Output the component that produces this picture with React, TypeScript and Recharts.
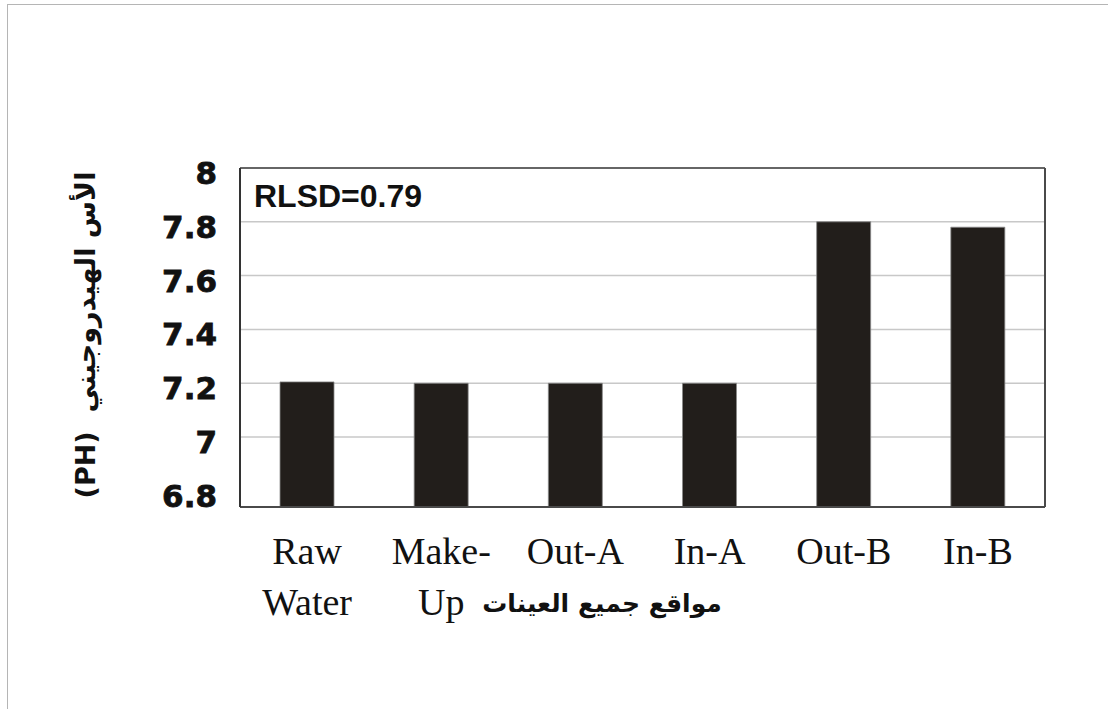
import React from "react";
import { BarChart, Bar, XAxis, YAxis, CartesianGrid } from "recharts";

const categories = ["Raw Water", "Make-Up", "Out-A", "In-A", "Out-B", "In-B"];
const tickLines = [["Raw", "Water"], ["Make-", "Up"], ["Out-A"], ["In-A"], ["Out-B"], ["In-B"]];
const phValues = [7.205, 7.2, 7.2, 7.2, 7.8, 7.78];
const yTicks = [6.8, 7, 7.2, 7.4, 7.6, 7.8, 8];
const gridValues = [7, 7.2, 7.4, 7.6, 7.8];
const yTitle = "(PH)  الأس الهيدروجيني";
const xTitle = "مواقع جميع العينات";
const note = "RLSD=0.79";

const data = categories.map((name, i) => ({ name, ph: phValues[i] }));

const W = 1108;
const H = 709;
const FRAME = "#4a4a4a";

const XTick = (props: any) => {
  const { x, y, index } = props;
  const lines = tickLines[index] || [props.payload.value];
  return (
    <text
      x={x}
      y={y}
      textAnchor="middle"
      fontFamily="'Liberation Serif', 'Times New Roman', serif"
      fontSize={38}
      fill="#111"
    >
      {lines.map((l: string, k: number) => (
        <tspan key={k} x={x} y={y + 57 + k * 51}>
          {l}
        </tspan>
      ))}
    </text>
  );
};

const YTick = (props: any) => {
  const { x, y, payload } = props;
  return (
    <text
      x={x + 2}
      y={y + 5}
      textAnchor="end"
      dominantBaseline="central"
      fontFamily="'DejaVu Sans', sans-serif"
      fontWeight="bold"
      fontSize={31}
      stroke="#111"
      strokeWidth={0.8}
      fill="#111"
    >
      {String(payload.value)}
    </text>
  );
};

export default function App() {
  return (
    <div style={{ position: "absolute", left: 0, top: 0, width: W, height: H, background: "#fff" }}>
      <div
        style={{
          position: "absolute",
          left: 7,
          top: 4,
          width: W - 7,
          height: H - 4,
          borderTop: "1.5px solid #b5b5b5",
          borderLeft: "1.5px solid #b5b5b5",
          boxSizing: "border-box",
        }}
      />
      <BarChart
        width={W}
        height={H}
        data={data}
        margin={{ top: 167, right: 62, left: 0, bottom: 0 }}
        barSize={54}
        style={{ position: "absolute", left: 0, top: 0 }}
      >
        <CartesianGrid
          vertical={false}
          stroke="#c8c8c8"
          strokeWidth={1.5}
          horizontalValues={gridValues}
        />
        <XAxis
          dataKey="name"
          height={202}
          tickLine={false}
          tickSize={0}
          tickMargin={0}
          axisLine={{ stroke: FRAME, strokeWidth: 2 }}
          tick={<XTick />}
          interval={0}
        />
        <XAxis
          xAxisId="top"
          dataKey="name"
          orientation="top"
          height={1}
          tick={false}
          tickLine={false}
          axisLine={{ stroke: "#666", strokeWidth: 2 }}
        />
        <YAxis
          width={240}
          domain={[6.74, 8]}
          ticks={yTicks}
          allowDataOverflow
          tickLine={false}
          tickSize={0}
          tickMargin={25}
          axisLine={{ stroke: "#333", strokeWidth: 2 }}
          tick={<YTick />}
          interval={0}
        />
        <YAxis
          yAxisId="right"
          orientation="right"
          width={1}
          domain={[6.74, 8]}
          tick={false}
          tickLine={false}
          axisLine={{ stroke: FRAME, strokeWidth: 2 }}
        />
        <Bar dataKey="ph" fill="#221e1b" stroke="#8a8a8a" strokeWidth={0.8} isAnimationActive={false} />
      </BarChart>
      <div
        style={{
          position: "absolute",
          left: 254,
          top: 176,
          fontFamily: "'Liberation Sans', Arial, sans-serif",
          fontWeight: "bold",
          fontSize: 32,
          color: "#111",
          lineHeight: "40px",
          whiteSpace: "nowrap",
        }}
      >
        {note}
      </div>
      <div
        style={{
          position: "absolute",
          left: 602,
          top: 603,
          transform: "translate(-50%, -50%)",
          fontFamily: "'DejaVu Sans', sans-serif",
          fontWeight: "bold",
          fontSize: 25,
          color: "#111",
          whiteSpace: "nowrap",
          direction: "rtl",
        }}
      >
        {xTitle}
      </div>
      <div
        style={{
          position: "absolute",
          left: 85,
          top: 335,
          transform: "translate(-50%, -50%) rotate(-90deg)",
          fontFamily: "'DejaVu Sans', sans-serif",
          fontWeight: "bold",
          fontSize: 27,
          color: "#111",
          whiteSpace: "pre",
          direction: "ltr",
          unicodeBidi: "plaintext",
        }}
      >
        {yTitle}
      </div>
    </div>
  );
}
